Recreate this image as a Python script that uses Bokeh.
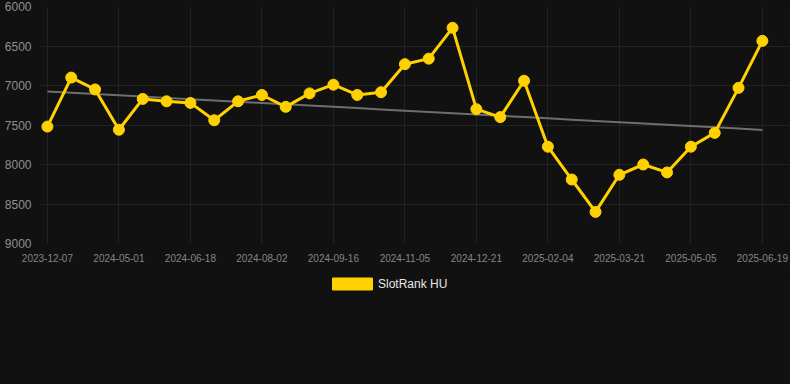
import numpy as np
from bokeh.plotting import figure
from bokeh.layouts import column
from bokeh.models import Range1d, Legend, LegendItem, FixedTicker, ColumnDataSource
from bokeh.embed import file_html
from bokeh.resources import INLINE

# ---- data ----
tick_labels = ["2023-12-07", "2024-05-01", "2024-06-18", "2024-08-02", "2024-09-16",
               "2024-11-05", "2024-12-21", "2025-02-04", "2025-03-21", "2025-05-05",
               "2025-06-19"]
rank_values = [7520, 6900, 7050, 7560, 7170, 7200, 7220, 7440, 7200, 7120,
               7270, 7100, 6990, 7120, 7085, 6730, 6660, 6270, 7300, 7400,
               6940, 7775, 8190, 8600, 8130, 8000, 8100, 7775, 7600, 7030, 6435]
series_name = "SlotRank HU"

idx = np.arange(len(rank_values))
tick_pos = list(range(0, len(rank_values), 3))
slope, intercept = np.polyfit(idx, np.array(rank_values, dtype=float), 1)
trend = slope * idx + intercept

BG = "#111111"
GOLD = "#FFD100"

p = figure(width=790, height=273, output_backend="svg", toolbar_location=None,
           x_range=Range1d(-0.29, 31.18), y_range=Range1d(9000, 6000),
           min_border_left=40, min_border_right=0, min_border_top=6, min_border_bottom=30,
           background_fill_color=BG, border_fill_color=BG, outline_line_color=None)

src = ColumnDataSource(dict(x=idx, y=rank_values, t=trend))
p.line("x", "t", source=src, line_color="#6e6e6e", line_width=2)
p.line("x", "y", source=src, line_color=GOLD, line_width=3)
p.scatter("x", "y", source=src, size=11, fill_color=GOLD, line_color=GOLD)

p.xaxis.ticker = FixedTicker(ticks=tick_pos)
p.xaxis.major_label_overrides = {t: lab for t, lab in zip(tick_pos, tick_labels)}
p.yaxis.ticker = FixedTicker(ticks=[6000, 6500, 7000, 7500, 8000, 8500, 9000])

for ax in (p.xaxis[0], p.yaxis[0]):
    ax.axis_line_color = None
    ax.major_tick_line_color = None
    ax.minor_tick_line_color = None
    ax.major_label_text_font = "Liberation Sans"
p.yaxis.major_label_text_font_size = "12px"
p.yaxis.major_label_text_color = "#8f8f8f"
p.yaxis.major_label_standoff = 3
p.xaxis.major_label_text_font_size = "10px"
p.xaxis.major_label_text_color = "#858585"
p.xaxis.major_label_standoff = 4

p.xgrid.grid_line_color = "#222222"
p.ygrid.grid_line_color = "#222222"

# legend strip
lg = figure(width=790, height=111, output_backend="svg", toolbar_location=None,
            x_range=Range1d(0, 1), y_range=Range1d(0, 1),
            min_border=0, background_fill_color=BG, border_fill_color=BG,
            outline_line_color=None)
lg.axis.visible = False
lg.grid.visible = False
dummy = lg.quad(left=[np.nan], right=[np.nan], top=[np.nan], bottom=[np.nan],
                fill_color=GOLD, line_color=GOLD)
legend = Legend(items=[LegendItem(label=series_name, renderers=[dummy])],
                orientation="horizontal", location=(287, 93),
                background_fill_alpha=0, border_line_color=None,
                glyph_width=50, glyph_height=15, label_standoff=1,
                label_text_font="Liberation Sans", label_text_font_size="12px",
                label_text_color="#e6e6e6", margin=0, padding=0)
lg.add_layout(legend)

layout = column(p, lg, spacing=0, styles={"background-color": BG})
open("out.html", "w").write(file_html(layout, INLINE))
